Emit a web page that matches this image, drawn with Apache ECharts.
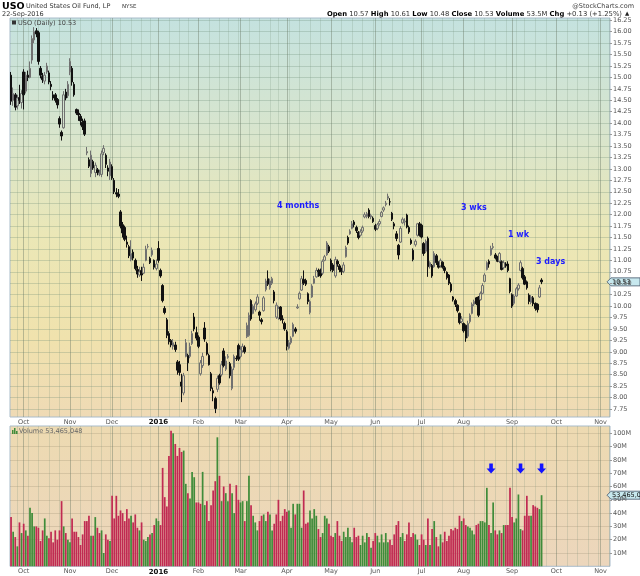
<!DOCTYPE html>
<html><head><meta charset="utf-8">
<script src="https://cdn.jsdelivr.net/npm/echarts@6/dist/echarts.min.js"></script>
<style>html,body{margin:0;padding:0;background:#fff;}#c{width:640px;height:576px;}</style>
</head><body><div id="c"></div>
<script>
// ---- categories: trading days 23-Sep-2015 .. 07-Nov-2016 ----
const holidays = ['2015-11-26','2015-12-25','2016-01-01','2016-01-18','2016-02-15','2016-03-25','2016-05-30','2016-07-04','2016-09-05'];
const dates = [];
(function(){
  let t = Date.UTC(2015,8,23); const end = Date.UTC(2016,10,7);
  while (t <= end) {
    const d = new Date(t); const dow = d.getUTCDay();
    const s = d.toISOString().slice(0,10);
    if (dow !== 0 && dow !== 6 && holidays.indexOf(s) < 0) dates.push(s);
    t += 86400000;
  }
})();
const monthNames = ['2016','Feb','Mar','Apr','May','Jun','Jul','Aug','Sep','Oct','Nov','Dec'];

// ---- daily OHLC (USO) ----
const open = [
15.05,14.50,14.62,14.38,14.56,14.45,15.12,14.70,15.05,15.00,
15.38,15.82,16.02,15.98,15.20,15.02,14.92,15.12,15.10,14.85,
14.62,14.62,14.52,14.10,13.80,13.90,14.68,14.60,15.12,15.20,
14.85,14.30,14.22,14.15,14.02,14.05,13.35,13.20,12.90,13.16,
12.92,12.98,12.88,12.88,13.36,13.30,13.02,12.85,13.05,12.75,
12.48,12.45,12.06,11.78,11.72,11.40,11.30,11.02,11.18,11.00,
10.80,10.68,10.78,10.72,11.00,11.30,11.04,11.12,11.00,10.82,
11.26,10.78,10.45,9.95,9.70,9.40,9.25,9.12,9.15,8.78,
8.72,8.34,8.10,8.90,8.92,8.90,9.18,9.76,9.42,9.32,
8.52,8.70,9.52,9.18,8.92,8.52,8.15,7.98,8.18,8.48,
8.50,9.02,8.62,8.88,8.74,8.20,8.66,8.86,9.14,8.90,
9.02,9.10,9.33,9.36,10.12,9.84,9.92,10.06,9.87,9.70,
9.90,10.36,10.60,10.40,10.50,10.31,9.76,9.74,9.98,9.72,
9.62,9.44,9.08,9.20,9.34,9.50,9.96,10.16,10.35,10.58,
10.56,10.27,9.86,10.20,10.50,10.64,10.78,10.79,10.72,11.00,
11.12,11.30,11.00,10.90,10.66,10.98,10.88,10.80,10.76,11.08,
11.50,11.58,11.70,11.84,11.72,11.62,11.55,11.64,11.95,11.96,
12.10,11.95,11.92,11.76,11.70,11.80,11.96,12.10,12.22,12.36,
12.28,12.03,11.80,11.58,11.33,11.40,11.82,11.84,11.99,11.72,
11.44,11.22,11.34,11.55,11.80,11.77,11.37,11.20,11.48,10.86,
10.89,10.86,11.10,10.95,10.88,10.96,10.84,10.74,10.68,10.48,
10.20,10.12,10.02,9.84,9.66,9.62,9.58,9.34,9.66,9.84,
10.04,10.18,10.20,10.14,10.28,10.54,10.80,10.98,11.12,11.28,
11.12,11.08,10.98,10.97,10.84,10.92,10.92,10.60,10.25,10.06,
10.22,10.38,10.78,10.82,10.64,10.53,10.24,10.08,10.18,10.06,
10.04,10.20,10.57];
const high = [
15.12,14.78,14.66,14.62,14.84,14.72,15.18,15.12,15.15,15.35,
15.92,16.10,16.08,16.02,15.25,15.10,15.12,15.32,15.15,14.92,
14.70,14.66,14.55,14.15,13.84,14.70,14.75,14.92,15.42,15.25,
14.90,14.32,14.30,14.20,14.10,14.10,13.48,13.25,13.40,13.20,
13.14,13.02,12.98,13.40,13.52,13.34,13.08,13.22,13.10,12.80,
12.58,12.56,12.10,11.84,11.76,11.54,11.34,11.44,11.24,11.04,
10.88,10.86,10.86,10.93,11.32,11.36,11.08,11.28,11.02,11.02,
11.42,10.82,10.48,10.00,9.74,9.45,9.28,9.28,9.22,8.82,
8.80,8.52,8.54,9.28,8.96,9.20,9.46,9.85,9.55,9.36,
8.82,8.98,9.65,9.22,8.96,8.56,8.22,8.02,8.48,8.52,
8.80,9.08,8.90,8.95,8.78,8.68,8.94,8.92,9.18,9.12,
9.18,9.14,9.64,9.86,10.15,10.04,10.10,10.26,9.90,9.74,
10.22,10.60,10.78,10.60,10.64,10.35,10.08,10.00,10.00,9.80,
9.66,9.48,9.26,9.34,9.64,9.54,10.04,10.32,10.66,10.78,
10.60,10.30,10.14,10.48,10.66,10.84,10.82,10.82,11.02,11.12,
11.42,11.34,11.04,10.94,11.08,11.02,10.92,10.84,10.96,11.32,
11.54,11.68,11.86,11.88,11.76,11.64,11.68,11.76,12.05,12.06,
12.14,12.02,11.96,11.80,11.82,11.90,12.08,12.18,12.30,12.46,
12.36,12.06,11.84,11.64,11.36,11.75,11.94,11.92,12.02,11.76,
11.48,11.26,11.46,11.82,11.84,11.80,11.40,11.46,11.52,10.98,
10.92,11.20,11.14,10.98,11.04,10.98,10.88,10.76,10.70,10.52,
10.22,10.16,10.04,9.86,9.78,9.64,9.60,9.68,9.84,10.08,
10.14,10.20,10.22,10.32,10.50,10.72,10.98,11.02,11.32,11.38,
11.16,11.10,11.18,11.00,11.00,10.96,10.98,10.62,10.28,10.26,
10.42,10.50,11.00,10.86,10.68,10.56,10.28,10.24,10.22,10.08,
10.06,10.46,10.61];
const low = [
14.40,14.38,14.28,14.30,14.42,14.32,14.30,14.65,14.92,14.98,
15.30,15.75,15.88,15.28,14.98,14.88,14.85,15.08,14.85,14.72,
14.50,14.45,14.32,13.90,13.62,13.88,14.50,14.55,15.05,14.82,
14.58,14.18,14.05,13.95,13.85,13.72,13.30,13.02,12.82,12.98,
12.82,12.86,12.84,12.82,13.30,13.02,12.84,12.76,12.76,12.45,
12.38,12.36,11.70,11.50,11.42,11.28,11.05,10.98,11.00,10.78,
10.62,10.64,10.55,10.70,10.98,11.26,10.92,11.08,10.80,10.78,
10.95,10.62,10.08,9.82,9.30,9.16,9.10,9.05,9.00,8.50,
8.48,7.90,8.05,8.88,8.58,8.86,9.15,9.45,9.25,9.08,
8.48,8.65,9.22,8.92,8.70,8.14,7.92,7.66,8.12,8.28,
8.46,8.66,8.58,8.85,8.42,8.16,8.60,8.80,8.80,8.86,
8.98,8.96,9.30,9.33,9.68,9.82,9.88,10.02,9.68,9.60,
9.88,10.32,10.44,10.36,10.46,10.06,9.72,9.70,9.68,9.62,
9.46,9.03,9.05,9.16,9.32,9.40,9.94,10.14,10.33,10.46,
10.44,10.04,9.82,10.18,10.48,10.62,10.64,10.62,10.68,10.98,
11.10,11.16,10.76,10.74,10.62,10.86,10.74,10.68,10.72,11.06,
11.34,11.56,11.68,11.72,11.60,11.46,11.52,11.60,11.92,11.92,
11.92,11.90,11.82,11.64,11.66,11.76,11.94,12.06,12.18,12.32,
12.20,11.86,11.68,11.42,11.02,11.38,11.80,11.76,11.70,11.58,
11.34,10.98,11.30,11.52,11.52,11.48,11.10,11.16,10.64,10.82,
10.62,10.84,10.90,10.82,10.84,10.82,10.72,10.58,10.46,10.30,
10.10,9.98,9.86,9.60,9.62,9.42,9.22,9.30,9.62,9.82,
10.00,10.02,9.76,10.12,10.26,10.52,10.78,10.84,11.10,11.24,
11.02,10.96,10.94,10.78,10.80,10.84,10.74,10.28,9.96,10.02,
10.20,10.34,10.76,10.58,10.46,10.36,10.04,10.04,10.00,9.90,
9.86,10.18,10.48];
const close = [
14.48,14.65,14.35,14.55,14.50,14.65,14.62,15.05,15.00,15.20,
15.85,16.00,15.95,15.35,15.05,14.95,15.05,15.25,14.90,14.80,
14.55,14.50,14.40,13.98,13.72,14.62,14.55,14.85,15.35,14.90,
14.62,14.22,14.18,14.05,13.92,13.76,13.38,13.06,13.30,13.02,
13.08,12.92,12.90,13.33,13.45,13.10,12.95,13.15,12.80,12.50,
12.45,12.40,11.75,11.60,11.46,11.35,11.10,11.15,11.05,10.82,
10.70,10.75,10.68,10.85,11.25,11.30,10.95,11.22,10.85,10.92,
11.00,10.66,10.12,9.86,9.36,9.22,9.15,9.20,9.05,8.60,
8.55,8.25,8.48,9.20,8.76,9.12,9.40,9.50,9.30,9.12,
8.76,8.90,9.28,8.95,8.72,8.20,8.10,7.76,8.42,8.32,
8.72,8.70,8.80,8.90,8.48,8.62,8.90,8.85,8.84,9.05,
9.12,9.00,9.58,9.80,9.72,10.00,10.05,10.20,9.80,9.66,
10.18,10.55,10.48,10.55,10.60,10.12,10.02,9.95,9.72,9.70,
9.50,9.12,9.20,9.30,9.60,9.45,9.98,10.28,10.60,10.50,
10.48,10.10,10.10,10.44,10.60,10.78,10.75,10.66,10.98,11.08,
11.38,11.20,10.80,10.78,11.02,10.92,10.80,10.75,10.90,11.28,
11.38,11.64,11.80,11.78,11.65,11.50,11.62,11.72,12.00,12.02,
11.96,11.98,11.85,11.68,11.78,11.85,12.05,12.15,12.25,12.40,
12.28,11.90,11.75,11.48,11.12,11.70,11.90,11.86,11.73,11.62,
11.37,11.02,11.42,11.80,11.55,11.51,11.15,11.42,10.86,10.95,
10.66,11.15,10.95,10.85,11.00,10.85,10.78,10.62,10.50,10.34,
10.14,10.04,9.90,9.64,9.72,9.46,9.30,9.62,9.80,10.04,
10.10,10.05,9.80,10.28,10.45,10.68,10.95,10.92,11.26,11.30,
11.05,10.98,11.15,10.80,10.95,10.88,10.78,10.32,10.00,10.22,
10.38,10.46,10.95,10.62,10.48,10.40,10.10,10.20,10.05,9.95,
9.92,10.40,10.53];
// ---- daily volume, millions of shares ----
const volumeM = [
37,26,22,15,33,25,32,27,23,44,
40,30,30,29,19,27,36,23,21,26,
18,27,20,27,49,30,25,20,18,36,
26,26,22,16,24,34,34,38,23,23,
37,29,25,27,10,24,20,19,53,36,
53,38,42,40,34,43,36,38,33,39,
29,27,33,20,19,22,24,25,31,36,
34,31,
74,52,45,83,102,100,92,83,89,86,
87,62,55,51,71,67,48,48,47,71,
46,49,34,46,57,64,97,68,49,60,
55,49,62,55,40,61,50,48,49,
34,49,68,46,38,33,27,34,38,39,
34,41,39,27,32,39,50,34,38,
43,41,42,29,47,39,47,47,29,57,
32,33,42,36,43,38,28,22,25,
38,36,32,23,22,25,34,23,19,26,
22,29,22,18,29,22,23,16,23,
18,25,22,14,19,25,23,18,24,18,
25,18,20,16,24,31,34,22,25,
19,24,33,22,25,24,20,16,24,20,
16,36,16,28,34,22,15,24,18,
26,19,23,28,27,29,28,38,34,36,
31,30,29,27,24,31,32,34,34,
33,59,31,25,48,27,24,27,25,31,
31,31,59,37,33,36,54,28,27,38,
53,38,38,46,45,44,43,53.47];
const priceTicks = [7.75,8.00,8.25,8.50,8.75,9.00,9.25,9.50,9.75,10.00,10.25,10.50,10.75,11.00,11.25,11.50,11.75,12.00,12.25,12.50,12.75,13.00,13.25,13.50,13.75,14.00,14.25,14.50,14.75,15.00,15.25,15.50,15.75,16.00,16.25];
const volTicks = [10,20,30,40,50,60,70,80,90,100];
const arrowDays = ['2016-08-18','2016-09-08','2016-09-22'];
const lastClose = 10.53, lastVolM = 53.465048;

// ---- helpers (styling only) ----
const FONT = 'DejaVu Sans';
function isMonthStart(i){ return i > 0 && dates[i].slice(5,7) !== dates[i-1].slice(5,7); }
function isWeekStart(i){
  if (i === 0) return false;
  const a = new Date(dates[i-1]+'T00:00:00Z'), b = new Date(dates[i]+'T00:00:00Z');
  return b.getUTCDay() < a.getUTCDay() || (b - a) >= 7*86400000;
}
function monthLabel(v){ const m = +v.slice(5,7); return m === 1 ? '{b|2016}' : monthNames[m-1]; }

const candleData = open.map((o,i)=>[o, close[i], low[i], high[i]]);
const volData = volumeM.map((v,i)=>{
  const up = i === 0 ? close[0] >= open[0] : close[i] >= close[i-1];
  return {value: v, itemStyle: {color: up ? '#3f8c3a' : '#c02a52'}};
});

const mainBg = {type:'linear', x:0, y:0, x2:0, y2:1, colorStops:[
  {offset:0, color:'#c4e2df'},{offset:0.3, color:'#d9e5cc'},{offset:0.55, color:'#ebe7b6'},{offset:0.8, color:'#f0e2ad'},{offset:1, color:'#efdab5'}]};
const volBg = {type:'linear', x:0, y:0, x2:0, y2:1, colorStops:[
  {offset:0, color:'#eddab1'},{offset:1, color:'#ecd6bc'}]};

function monthAxis(gridIndex){
  return {
    type:'category', gridIndex, data: dates, boundaryGap: true,
    axisLine:{show:false}, axisTick:{show:false},
    axisLabel:{show:true, interval:(i)=>isMonthStart(i), formatter: monthLabel,
      fontSize:6.5, fontFamily:FONT, color:'#555', margin:2,
      rich:{b:{fontWeight:'bold', fontSize:7, fontFamily:FONT, color:'#111'}}},
    splitLine:{show:true, interval:(i)=>isMonthStart(i), alignWithLabel:true,
      lineStyle:{color:'rgba(105,120,100,0.42)', width:1}}
  };
}
function weekAxis(gridIndex){
  return {
    type:'category', gridIndex, data: dates, boundaryGap: true, position:'bottom',
    axisLine:{show:false}, axisTick:{show:false}, axisLabel:{show:false},
    splitLine:{show:true, interval:(i)=>isWeekStart(i) && !isMonthStart(i), alignWithLabel:true,
      lineStyle:{color:'rgba(120,145,125,0.22)', width:1}}
  };
}

const chart = echarts.init(document.getElementById('c'), null, {renderer:'canvas'});
const option = {
  animation:false,
  backgroundColor:'#ffffff',
  grid:[
    {left:10, right:30, top:18, height:399, show:true, backgroundColor: mainBg, borderColor:'#a9bccb', borderWidth:1},
    {left:10, right:30, top:426, height:140.3, show:true, backgroundColor: volBg, borderColor:'#a9bccb', borderWidth:1}
  ],
  xAxis:[ monthAxis(0), weekAxis(0), monthAxis(1), weekAxis(1) ],
  yAxis:[
    {type:'value', gridIndex:0, position:'right', min:7.575, max:16.30,
      axisLine:{show:false},
      axisTick:{show:true, length:2, customValues: priceTicks, lineStyle:{color:'#999'}},
      axisLabel:{customValues: priceTicks, formatter:(v)=>v.toFixed(2), fontSize:6.5, fontFamily:FONT, color:'#555', margin:3},
      splitLine:{show:true, customValues: priceTicks, lineStyle:{color:'rgba(105,135,115,0.28)', width:1}}},
    {type:'value', gridIndex:1, position:'right', min:0, max:105.5,
      axisLine:{show:false},
      axisTick:{show:true, length:2, customValues: volTicks, lineStyle:{color:'#999'}},
      axisLabel:{customValues: volTicks, formatter:(v)=>v+'M', fontSize:6.5, fontFamily:FONT, color:'#555', margin:3},
      splitLine:{show:true, customValues: volTicks, lineStyle:{color:'rgba(130,125,95,0.22)', width:1}}}
  ],
  series:[
    {type:'candlestick', name:'USO', xAxisIndex:0, yAxisIndex:0, data: candleData, barWidth:2,
      itemStyle:{color:'rgba(0,0,0,0)', color0:'#111', borderColor:'#707070', borderColor0:'#111', borderWidth:1}},
    {type:'bar', name:'Volume', xAxisIndex:2, yAxisIndex:1, data: volData, barWidth:'82%',
      markPoint:{symbol:'path://M3,0 L7,0 L7,5 L10,5 L5,10 L0,5 L3,5 Z', symbolSize:[9,10],
        itemStyle:{color:'#1414ff'}, label:{show:false}, silent:true,
        data: arrowDays.map(d=>({coord:[d, 73.5]}))}}
  ]
};
chart.setOption(option);

const yP = chart.convertToPixel({yAxisIndex:0}, lastClose);
const yV = chart.convertToPixel({yAxisIndex:1}, lastVolM);
function marker(y, text){
  return {type:'group', children:[
    {type:'polygon', shape:{points:[[607,y],[611,y-4],[640,y-4],[640,y+4],[611,y+4]]},
      style:{fill:'#c7e8ee', stroke:'#44556a', lineWidth:0.8}},
    {type:'text', x:612, y:y, style:{text:text, font:'6.5px '+FONT, fill:'#111', verticalAlign:'middle'}}
  ]};
}
const blue = '#1c1cff';
function note(x, y, t){ return {type:'text', x, y, style:{text:t, font:'bold 8px '+FONT, fill:blue, verticalAlign:'middle'}}; }
chart.setOption({graphic:[
  {type:'text', x:2, y:1.5, style:{text:'USO', font:'bold 9.5px '+FONT, fill:'#000'}},
  {type:'text', x:26, y:3, style:{text:'United States Oil Fund, LP', font:'6.5px '+FONT, fill:'#333'}},
  {type:'text', x:122, y:4, style:{text:'NYSE', font:'5.5px '+FONT, fill:'#333'}},
  {type:'text', x:634, y:3, style:{text:'@StockCharts.com', font:'6.5px '+FONT, fill:'#444', align:'right'}},
  {type:'text', x:2, y:11, style:{text:'22-Sep-2016', font:'6.5px '+FONT, fill:'#333'}},
  {type:'text', x:622, y:11, style:{
    text:'{b|Open} 10.57 {b|High} 10.61 {b|Low} 10.48 {b|Close} 10.53 {b|Volume} 53.5M {b|Chg} +0.13 (+1.25%)',
    font:'6.8px '+FONT, fill:'#333', align:'right',
    rich:{b:{fontWeight:'bold', fontSize:6.8, fontFamily:FONT, fill:'#000', color:'#000'}}}},
  {type:'text', x:625, y:11, style:{text:'\u25B2', font:'5.5px '+FONT, fill:'#222'}},
  {type:'rect', shape:{x:12, y:20.5, width:4, height:4}, style:{fill:'#333'}},
  {type:'text', x:18, y:19.5, style:{text:'USO (Daily) 10.53', font:'6.5px '+FONT, fill:'#444'}},
  {type:'rect', shape:{x:12, y:430, width:1.5, height:4}, style:{fill:'#3f8c3a'}},
  {type:'rect', shape:{x:14, y:428, width:1.5, height:6}, style:{fill:'#3f8c3a'}},
  {type:'rect', shape:{x:16, y:431, width:1.5, height:3}, style:{fill:'#3f8c3a'}},
  {type:'text', x:19, y:428, style:{text:'Volume 53,465,048', font:'6.5px '+FONT, fill:'#666'}},
  marker(yP, '10.53'),
  marker(yV, '53,465,048'),
  note(277, 206, '4 months'),
  note(461, 208, '3 wks'),
  note(508, 234.5, '1 wk'),
  note(536, 262, '3 days')
]});
</script></body></html>
